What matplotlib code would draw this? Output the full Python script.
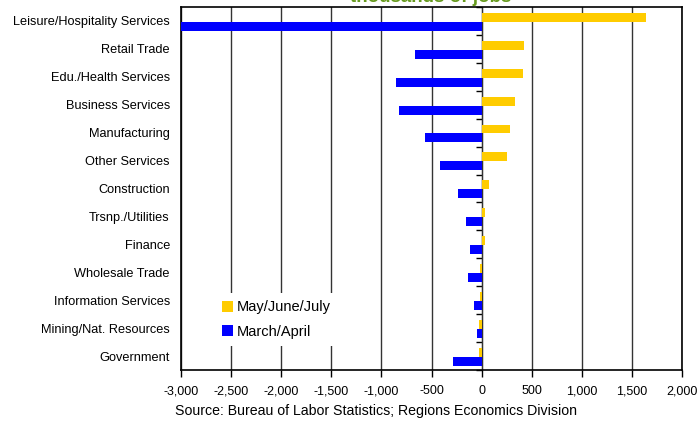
import matplotlib
matplotlib.use("Agg")
import matplotlib.pyplot as plt
from matplotlib.ticker import FuncFormatter
import numpy as np

plt.rcParams['font.family'] = ['Liberation Sans', 'DejaVu Sans']

categories = [
    "Leisure/Hospitality Services", "Retail Trade", "Edu./Health Services",
    "Business Services", "Manufacturing", "Other Services", "Construction",
    "Trsnp./Utilities", "Finance", "Wholesale Trade", "Information Services",
    "Mining/Nat. Resources", "Government",
]
may_june_july = [1640, 425, 415, 335, 285, 250, 75, 35, 35, -15, -20, -30, -30]
march_april = [-3000, -660, -855, -825, -565, -415, -238, -158, -112, -135, -78, -45, -283]

x_ticks = list(range(-3000, 2001, 500))

YELLOW = "#FFCC00"
BLUE = "#0000FF"

fig = plt.figure(figsize=(6.99, 4.21), dpi=100)
ax = fig.add_axes([181 / 699, 1 - 370 / 421, 501 / 699, 363 / 421])

y = np.arange(len(categories))
h = 0.32
ax.barh(y + 0.03 - h / 2, may_june_july, height=h, color=YELLOW, label="May/June/July", zorder=3)
ax.barh(y + 0.03 + h / 2, march_april, height=h, color=BLUE, label="March/April", zorder=3)

ax.set_xlim(-3000, 2000)
ax.set_ylim(len(categories) - 0.5, -0.5)
ax.set_xticks(x_ticks)
ax.xaxis.set_major_formatter(FuncFormatter(lambda v, p: f"{int(v):,}"))
ax.tick_params(axis='x', direction='out', length=5, width=1, labelsize=9, pad=6, color='black')
ax.set_yticks(y)
ax.set_yticklabels(categories)
ax.tick_params(axis='y', length=0, labelsize=9.2, pad=8)

ax.grid(axis='x', color='#333333', linewidth=1, zorder=0)
for s in ax.spines.values():
    s.set_color('black')
    s.set_linewidth(1.2)

# vertical axis line at zero with category separators
zero_frac = (0 - (-3000)) / 5000
sec = ax.secondary_yaxis(zero_frac)
sec.set_yticks(np.arange(-0.5, len(categories), 1.0))
sec.set_yticklabels([])
sec.tick_params(axis='y', direction='in', length=4, width=1, color='black')
sec.spines['left'].set_linewidth(1.2)

leg = ax.legend(loc='upper left', bbox_to_anchor=(0.052, 0.232), frameon=True,
                fancybox=False, framealpha=1, edgecolor='white', fontsize=10.5,
                handlelength=0.75, handleheight=0.75, handletextpad=0.3,
                labelspacing=0.72, borderpad=0.5)
leg.get_frame().set_linewidth(0)
leg.set_zorder(5)

fig.text(431 / 699, 1 - 2.5 / 421, "thousands of jobs", ha='center', va='baseline',
         fontsize=13.5, fontweight='bold', color='#669A1E')
fig.text(376 / 699, 1 - 411 / 421, "Source: Bureau of Labor Statistics; Regions Economics Division",
         ha='center', va='center', fontsize=10.2)

fig.savefig("out.png", dpi=100)
